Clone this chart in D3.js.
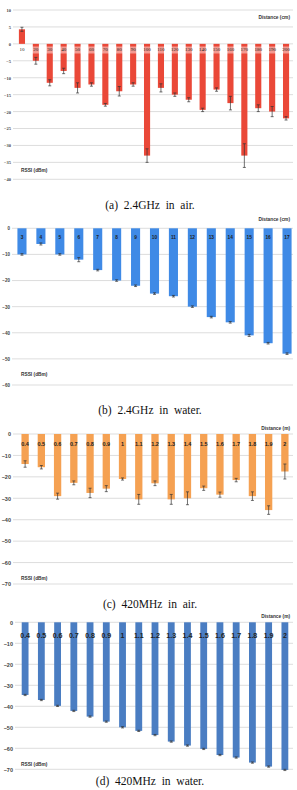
<!DOCTYPE html>
<html>
  <head>
    <meta charset="utf-8">
    <script src="https://d3js.org/d3.v7.min.js"></script>
    <style>
      body { margin: 0; background: #fff; }
      svg { display: block; }
    </style>
  </head>
<body>
  <script type="text/javascript">
    // ---- data ----
    var airCm = ["10","20","30","40","50","60","70","80","90","100",
                 "110","120","130","140","150","160","170","180","190","200"];
    var air24 = [4.3,-5,-11.5,-8,-13,-12,-18,-14,-12,-33,
                 -13,-15,-16.5,-19.5,-13.5,-17.5,-33,-19,-20,-22];
    var air24Err = [0.6,1,0.9,0.8,1.5,0.5,0.4,1.4,0.5,2,
                    1.2,0.5,0.6,0.5,0.5,2,3.5,1,1.5,0.5];

    var waterCm = ["3","4","5","6","7","8","9","10","11","12","13","14","15","16","17"];
    var water24 = [-10,-6,-10,-12,-16,-20,-22,-25,-26,-30,-34,-36,-41,-44,-48];
    var water24Err = [0.3,0.4,0.3,0.8,0.3,0.3,0.3,0.3,0.3,0.3,0.3,0.3,0.4,0.3,0.3];

    var distM = ["0.4","0.5","0.6","0.7","0.8","0.9","1","1.1","1.2",
                 "1.3","1.4","1.5","1.6","1.7","1.8","1.9","2"];
    var air420 = [-14,-15.5,-29,-22.8,-27.5,-25.5,-21,-30.5,-23,
                  -30.5,-30,-25.3,-28.3,-21.5,-29,-35.5,-17.5];
    var air420Err = [1.5,0.8,1.4,0.9,2.2,1.4,0.5,2.3,1.1,
                     2.3,3,1,1.2,0.8,2,2,3.5];
    var water420 = [-34.6,-37,-39.8,-42.2,-44.9,-47.3,-50,-51.7,-53.7,
                    -56.8,-58.7,-60.3,-63.2,-64.4,-66.8,-68.7,-70.3];
    var water420Err = [0.3,0.3,0.3,0.3,0.3,0.3,0.3,0.3,0.3,
                       0.3,0.3,0.3,0.3,0.3,0.3,0.3,0.3];

    var captions = ["(a)  2.4GHz  in  air.", "(b)  2.4GHz  in  water.",
                    "(c)  420MHz  in  air.", "(d)  420MHz  in  water."];
    var unitCm = "Distance (cm)", unitM = "Distance (m)", yTitle = "RSSI (dBm)";

    // ---- panel layout (page pixels) ----
    var panels = [
      {cats: airCm, vals: air24, err: air24Err, unit: unitCm, cap: captions[0],
       dom: [-40, 10], top: 10, bot: 179.3, x0: 15, x1: 293, gl: 13, pad: 0.56,
       color: "#ea4838", labY: 50, labSize: 5, serif: true, tickSize: 4.5,
       unitY: 18, titleY: 171, capY: 206},
      {cats: waterCm, vals: water24, err: water24Err, unit: unitCm, cap: captions[1],
       dom: [-60, 0], top: 228.3, bot: 385, x0: 12.5, x1: 296.5, gl: 12, pad: 0.52,
       color: "#3f8ae6", labY: 238, labSize: 4.8, serif: false, tickSize: 4.5,
       unitY: 220, titleY: 375, capY: 411},
      {cats: distM, vals: air420, err: air420Err, unit: unitM, cap: captions[2],
       dom: [-70, 0], top: 434, bot: 584, x0: 17, x1: 293, gl: 13, pad: 0.55,
       color: "#f5a152", labY: 445, labSize: 5.5, serif: false, tickSize: 5.5,
       unitY: 429, titleY: 579, capY: 605},
      {cats: distM, vals: water420, err: water420Err, unit: unitM, cap: captions[3],
       dom: [-70, 0], top: 622.3, bot: 769.3, x0: 17, x1: 293, gl: 15, pad: 0.58,
       color: "#4a7dc2", labY: 636, labSize: 7, serif: false, tickSize: 5.5,
       unitY: 617, titleY: 765, capY: 782}
    ];

    var svg = d3.select("body").append("svg")
      .attr("width", 297)
      .attr("height", 790);

    panels.forEach(function(p) {
      var g = svg.append("g");
      var y = d3.scaleLinear().domain(p.dom).range([p.bot, p.top]);
      var x = d3.scaleBand().domain(p.cats).range([p.x0, p.x1]).paddingInner(p.pad).paddingOuter(p.pad / 2);
      var ticks = d3.range(p.dom[0], p.dom[1] + 0.1, p.dom[1] - p.dom[0] > 50 ? 10 : 5);
      var cx = function(d, i) { return x(p.cats[i]) + x.bandwidth() / 2; };

      // gridlines
      g.selectAll("line.grid").data(ticks).enter().append("line")
        .attr("class", "grid")
        .attr("x1", p.gl).attr("x2", 293)
        .attr("y1", function(d) { return y(d); })
        .attr("y2", function(d) { return y(d); })
        .attr("stroke", "#d4d4d4")
        .attr("stroke-width", 0.8);

      // y tick labels
      var ax = g.append("g")
        .attr("transform", "translate(" + (p.gl - 2) + ",0)")
        .call(d3.axisLeft(y).tickValues(ticks).tickSize(0).tickPadding(0));
      ax.select(".domain").remove();
      ax.selectAll("text")
        .attr("font-family", p.serif ? "Liberation Serif" : "Liberation Sans")
        .attr("font-weight", "bold")
        .attr("font-size", p.tickSize)
        .attr("fill", "#444");

      // bars
      g.selectAll("rect.bar").data(p.vals).enter().append("rect")
        .attr("class", "bar")
        .attr("x", function(d, i) { return x(p.cats[i]); })
        .attr("width", x.bandwidth())
        .attr("y", function(d) { return y(Math.max(0, d)); })
        .attr("height", function(d) { return Math.abs(y(d) - y(0)); })
        .attr("fill", p.color);

      // error bars
      var eb = g.selectAll("g.err").data(p.vals).enter().append("g")
        .attr("class", "err")
        .attr("stroke", "#333")
        .attr("stroke-width", 0.7);
      eb.append("line")
        .attr("x1", cx).attr("x2", cx)
        .attr("y1", function(d, i) { return y(d + p.err[i]); })
        .attr("y2", function(d, i) { return y(d - p.err[i]); });
      [1, -1].forEach(function(s) {
        eb.append("line")
          .attr("x1", function(d, i) { return cx(d, i) - 1.5; })
          .attr("x2", function(d, i) { return cx(d, i) + 1.5; })
          .attr("y1", function(d, i) { return y(d + s * p.err[i]); })
          .attr("y2", function(d, i) { return y(d + s * p.err[i]); });
      });

      // light backing behind the serif labels of panel (a)
      if (p.serif) {
        g.selectAll("rect.labbg").data(p.cats).enter().append("rect")
          .attr("class", "labbg")
          .attr("x", function(d) { return x(d) - 1; })
          .attr("width", x.bandwidth() + 2)
          .attr("y", p.labY - 3.5)
          .attr("height", 7)
          .attr("fill", "#fff")
          .attr("opacity", 0.45);
      }

      // category labels
      g.selectAll("text.cat").data(p.cats).enter().append("text")
        .attr("class", "cat")
        .attr("x", function(d) { return x(d) + x.bandwidth() / 2; })
        .attr("y", p.labY)
        .attr("text-anchor", "middle")
        .attr("dominant-baseline", "middle")
        .attr("font-family", p.serif ? "Liberation Serif" : "Liberation Sans")
        .attr("font-weight", p.serif ? "normal" : "bold")
        .attr("font-size", p.labSize)
        .attr("fill", "#222")
        .text(function(d) { return d; });

      // axis titles
      g.append("text")
        .attr("x", 290).attr("y", p.unitY)
        .attr("text-anchor", "end")
        .attr("dominant-baseline", "middle")
        .attr("font-family", "Liberation Sans")
        .attr("font-weight", "bold")
        .attr("font-size", 4.8)
        .attr("fill", "#333")
        .text(p.unit);
      g.append("text")
        .attr("x", 21).attr("y", p.titleY)
        .attr("dominant-baseline", "middle")
        .attr("font-family", "Liberation Sans")
        .attr("font-weight", "bold")
        .attr("font-size", 4.8)
        .attr("fill", "#333")
        .text(yTitle);

      // caption
      g.append("text")
        .attr("x", 150).attr("y", p.capY)
        .attr("text-anchor", "middle")
        .attr("dominant-baseline", "middle")
        .attr("font-family", "Liberation Serif")
        .attr("font-size", 11.5)
        .attr("fill", "#111")
        .style("white-space", "pre")
        .text(p.cap);
    });
  </script>
</body>
</html>
